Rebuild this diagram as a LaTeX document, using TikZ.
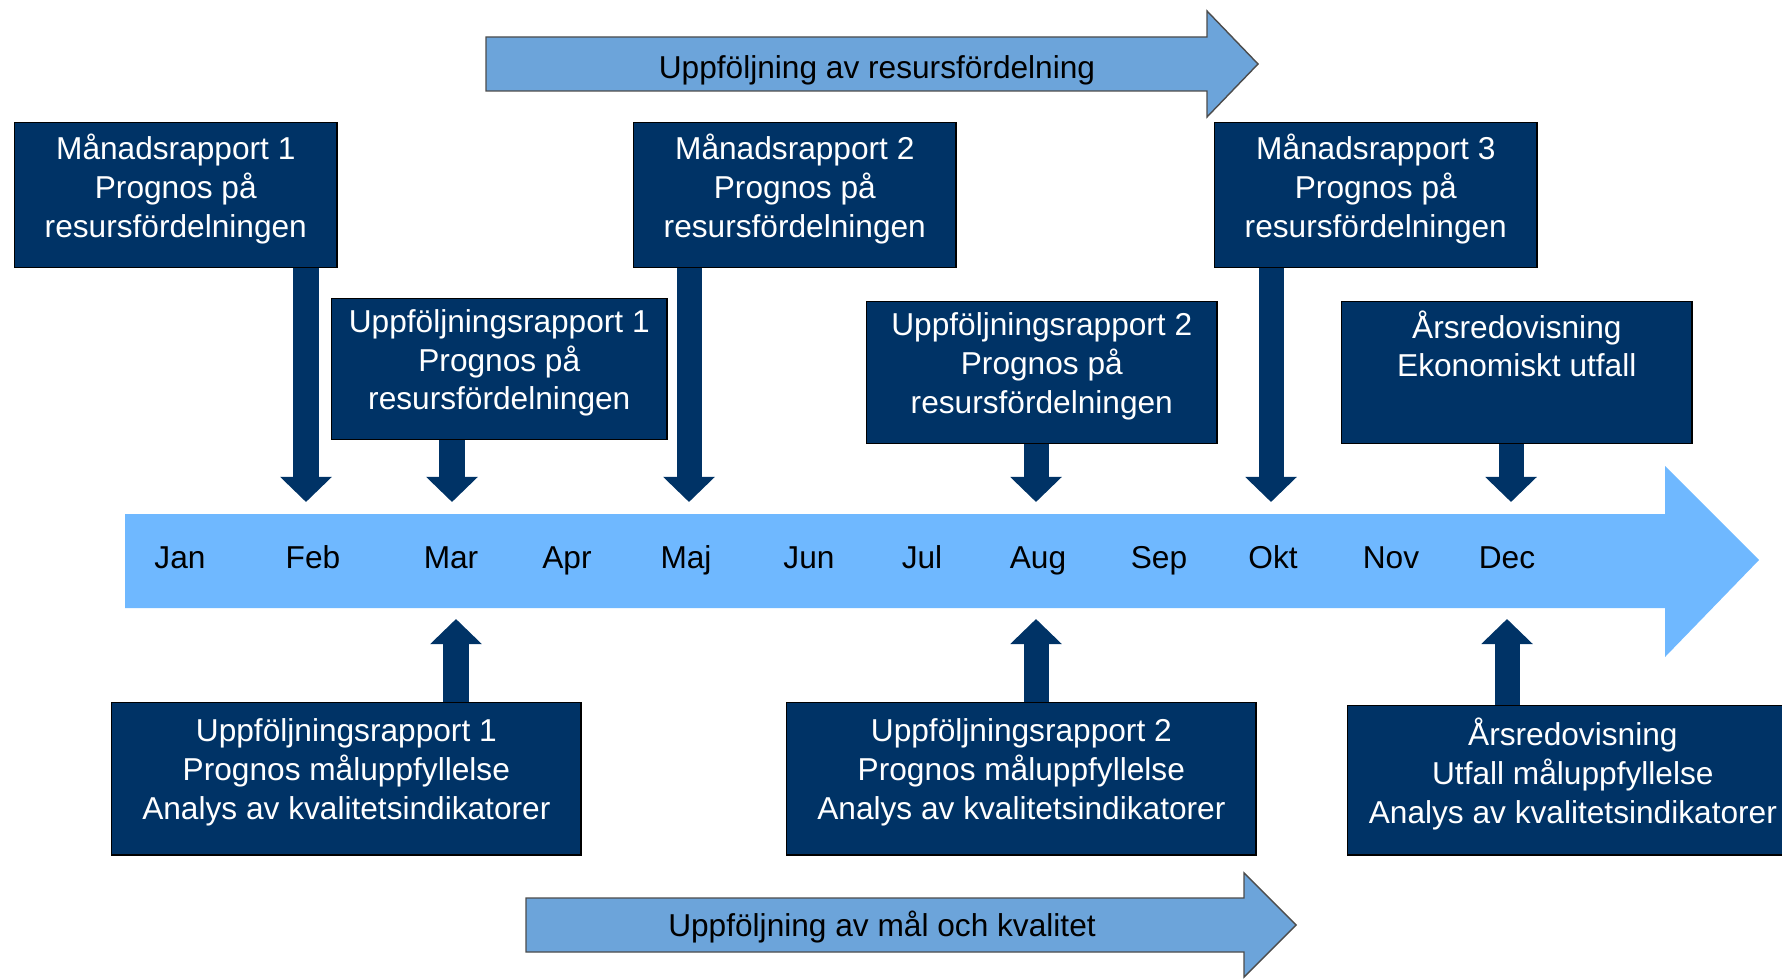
\documentclass[tikz,border=0pt]{standalone}
\usepackage{fontspec}
\setmainfont{Liberation Sans}
\usetikzlibrary{arrows.meta}
\definecolor{navy}{RGB}{0,51,102}
\definecolor{lineblue}{RGB}{111,184,255}
\definecolor{procblue}{RGB}{108,164,218}
\begin{document}
\begin{tikzpicture}[x=0.01cm, y=-0.01cm,
    font=\fontsize{9}{11}\selectfont,
    box/.style={draw=black, fill=navy, text=white, align=center, inner sep=0pt,
      text depth=5.5pt, anchor=north west},
    topbox/.style={box, minimum width=3.22cm, minimum height=1.45cm},
    midbox/.style={box, minimum width=3.5cm, minimum height=1.42cm},
    lowbox/.style={box, minimum width=4.69cm, minimum height=1.52cm},
    month/.style={anchor=base},
    report/.style={line width=0.25cm, draw=navy, -{Triangle[width=0.5cm, length=0.25cm]}},
    process/.style={draw=black!70, fill=procblue},
  ]
  \clip (0,0) rectangle (1782,979);
  \fill[lineblue] (125,514) -- (1665,514) -- (1665,466) -- (1759,560)
    -- (1665,657) -- (1665,608) -- (125,608) -- cycle;
  \draw[process] (486,37) -- (1207,37) -- (1207,11) -- (1258,64)
    -- (1207,117) -- (1207,91) -- (486,91) -- cycle;
  \draw[process] (526,898) -- (1244,898) -- (1244,873) -- (1296,925)
    -- (1244,977) -- (1244,952) -- (526,952) -- cycle;
  \node (resurs) at (877,70) {Uppföljning av resursfördelning};
  \node (malkval) at (882,927) {Uppföljning av mål och kvalitet};

  \node[month] (jan) at (180,568) {Jan};
  \node[month] (feb) at (313,568) {Feb};
  \node[month] (mar) at (451,568) {Mar};
  \node[month] (apr) at (567,568) {Apr};
  \node[month] (maj) at (686,568) {Maj};
  \node[month] (jun) at (809,568) {Jun};
  \node[month] (jul) at (922,568) {Jul};
  \node[month] (aug) at (1038,568) {Aug};
  \node[month] (sep) at (1159,568) {Sep};
  \node[month] (okt) at (1273,568) {Okt};
  \node[month] (nov) at (1391,568) {Nov};
  \node[month] (dec) at (1507,568) {Dec};

  \node[topbox] (man1) at (14,122) {Månadsrapport 1\\Prognos på\\resursfördelningen};
  \node[topbox] (man2) at (633,122) {Månadsrapport 2\\Prognos på\\resursfördelningen};
  \node[topbox] (man3) at (1214,122) {Månadsrapport 3\\Prognos på\\resursfördelningen};
  \node[midbox, minimum width=3.35cm, minimum height=1.41cm] (upp1) at (331,298)
    {Uppföljningsrapport 1\\Prognos på\\resursfördelningen};
  \node[midbox] (upp2) at (866,301) {Uppföljningsrapport 2\\Prognos på\\resursfördelningen};
  \node[midbox] (ars) at (1341,301) {Årsredovisning\\Ekonomiskt utfall\\\mbox{}};
  \node[lowbox] (mal1) at (111,702)
    {Uppföljningsrapport 1\\Prognos måluppfyllelse\\Analys av kvalitetsindikatorer};
  \node[lowbox] (mal2) at (786,702)
    {Uppföljningsrapport 2\\Prognos måluppfyllelse\\Analys av kvalitetsindikatorer};
  \node[lowbox, minimum width=4.5cm, minimum height=1.49cm] (malars) at (1347,705)
    {Årsredovisning\\Utfall måluppfyllelse\\Analys av kvalitetsindikatorer};

  \coordinate (febtip) at (306,502);
  \coordinate (martip) at (452,502);
  \coordinate (majtip) at (689,502);
  \coordinate (augtip) at (1036,502);
  \coordinate (okttip) at (1271,502);
  \coordinate (dectip) at (1511,502);
  \coordinate (marup) at (456,619);
  \coordinate (augup) at (1036,619);
  \coordinate (decup) at (1507,619);

  \draw[report] (man1.south -| febtip) -- (febtip);
  \draw[report] (upp1.south -| martip) -- (martip);
  \draw[report] (man2.south -| majtip) -- (majtip);
  \draw[report] (upp2.south -| augtip) -- (augtip);
  \draw[report] (man3.south -| okttip) -- (okttip);
  \draw[report] (ars.south -| dectip) -- (dectip);
  \draw[report] (mal1.north -| marup) -- (marup);
  \draw[report] (mal2.north -| augup) -- (augup);
  \draw[report] (malars.north -| decup) -- (decup);
\end{tikzpicture}
\end{document}
